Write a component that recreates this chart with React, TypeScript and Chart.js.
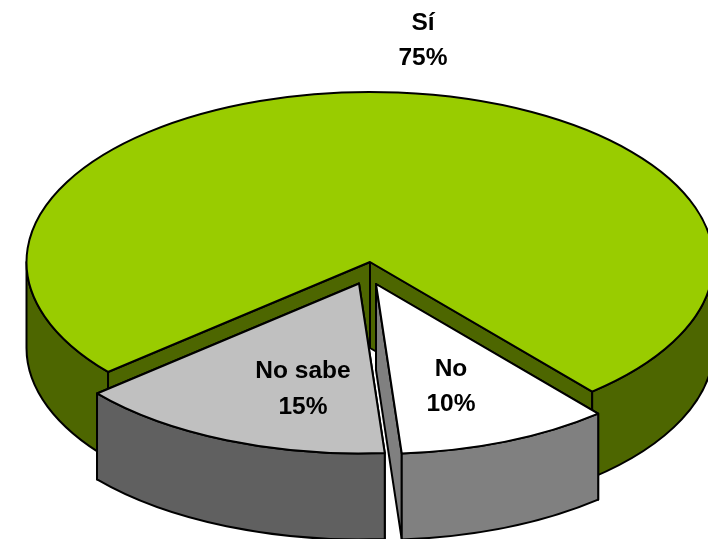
import React, { useEffect, useRef } from "react";
import { Chart, registerables } from "chart.js";

Chart.register(...registerables);

const categories = ["Sí", "No", "No sabe"];
const shares = [75, 10, 15];
const tickLabels = ["75%", "10%", "15%"];
const topColors = ["#99CC00", "#FFFFFF", "#C0C0C0"];
const wallColors = ["#4D6600", "#808080", "#606060"];

const WIDTH = 708;
const HEIGHT = 539;
const CENTER_X = 370;
const CENTER_Y = 262;
const RADIUS_X = 343.5;
const RADIUS_Y = 170;
const DEPTH = 86;
const FIRST_ANGLE = 229.7;
const EXPLODE = [
  { x: 0, y: 0 },
  { x: 6, y: 22 },
  { x: -11, y: 21.5 },
];
const LABEL_POS = [
  { x: 423, y: 30, gap: 35 },
  { x: 451, y: 376, gap: 35 },
  { x: 303, y: 378, gap: 36 },
];

const pie3d = {
  id: "pie3d",
  beforeDatasetsDraw(chart: any) {
    const ctx = chart.ctx as CanvasRenderingContext2D;
    const arcs = chart.getDatasetMeta(0).data;
    const lineWidth = 2;

    const order = [0, 1, 2];
    for (const i of order) {
      const arc = arcs[i];
      const { x, y, outerRadius, startAngle, endAngle } = arc.getProps(
        ["x", "y", "outerRadius", "startAngle", "endAngle"],
        true
      );
      const cx = CENTER_X + EXPLODE[i].x;
      const cy = CENTER_Y + EXPLODE[i].y;
      const px = (a: number) => cx + RADIUS_X * Math.cos(a);
      const py = (a: number) => cy + RADIUS_Y * Math.sin(a);

      ctx.save();
      ctx.lineWidth = lineWidth;
      ctx.strokeStyle = "#000000";
      ctx.lineJoin = "round";
      ctx.fillStyle = wallColors[i];

      // cut faces
      for (const a of [startAngle, endAngle]) {
        ctx.beginPath();
        ctx.moveTo(cx, cy);
        ctx.lineTo(px(a), py(a));
        ctx.lineTo(px(a), py(a) + DEPTH);
        ctx.lineTo(cx, cy + DEPTH);
        ctx.closePath();
        ctx.fill();
        ctx.stroke();
      }

      // outer wall: only the part of the rim that faces the viewer
      const twoPi = Math.PI * 2;
      for (let k = -1; k <= 2; k++) {
        const lo = Math.max(startAngle, k * twoPi);
        const hi = Math.min(endAngle, k * twoPi + Math.PI);
        if (hi <= lo) continue;
        ctx.beginPath();
        ctx.ellipse(cx, cy, RADIUS_X, RADIUS_Y, 0, lo, hi);
        ctx.lineTo(px(hi), py(hi) + DEPTH);
        ctx.ellipse(cx, cy + DEPTH, RADIUS_X, RADIUS_Y, 0, hi, lo, true);
        ctx.closePath();
        ctx.fill();
        ctx.stroke();
      }

      // top face: the library's own arc, squashed onto the ellipse
      ctx.save();
      ctx.translate(cx, cy);
      ctx.scale(RADIUS_X / outerRadius, RADIUS_Y / outerRadius);
      ctx.translate(-x, -y);
      arc.draw(ctx);
      ctx.restore();

      ctx.beginPath();
      ctx.moveTo(cx, cy);
      ctx.ellipse(cx, cy, RADIUS_X, RADIUS_Y, 0, startAngle, endAngle);
      ctx.closePath();
      ctx.stroke();
      ctx.restore();
    }

    // labels
    ctx.save();
    ctx.font = 'bold 24.5px "Liberation Sans", Arial, sans-serif';
    ctx.fillStyle = "#000000";
    ctx.textAlign = "center";
    ctx.textBaseline = "alphabetic";
    categories.forEach((name, i) => {
      ctx.fillText(name, LABEL_POS[i].x, LABEL_POS[i].y);
      ctx.fillText(tickLabels[i], LABEL_POS[i].x, LABEL_POS[i].y + LABEL_POS[i].gap);
    });
    ctx.restore();
    return false;
  },
};

export default function App() {
  const ref = useRef<HTMLCanvasElement>(null);
  useEffect(() => {
    document.body.style.margin = "0";
    document.body.style.background = "#FFFFFF";
    const chart = new Chart(ref.current!, {
      type: "pie",
      data: {
        labels: categories,
        datasets: [
          {
            data: shares,
            backgroundColor: topColors,
            borderWidth: 0,
          },
        ],
      },
      options: {
        responsive: false,
        animation: false,
        rotation: FIRST_ANGLE,
        plugins: {
          legend: { display: false },
          tooltip: { enabled: false },
        },
      },
      plugins: [pie3d],
    });
    return () => chart.destroy();
  }, []);
  return (
    <canvas
      ref={ref}
      width={WIDTH}
      height={HEIGHT}
      style={{ display: "block", width: WIDTH, height: HEIGHT }}
    />
  );
}
